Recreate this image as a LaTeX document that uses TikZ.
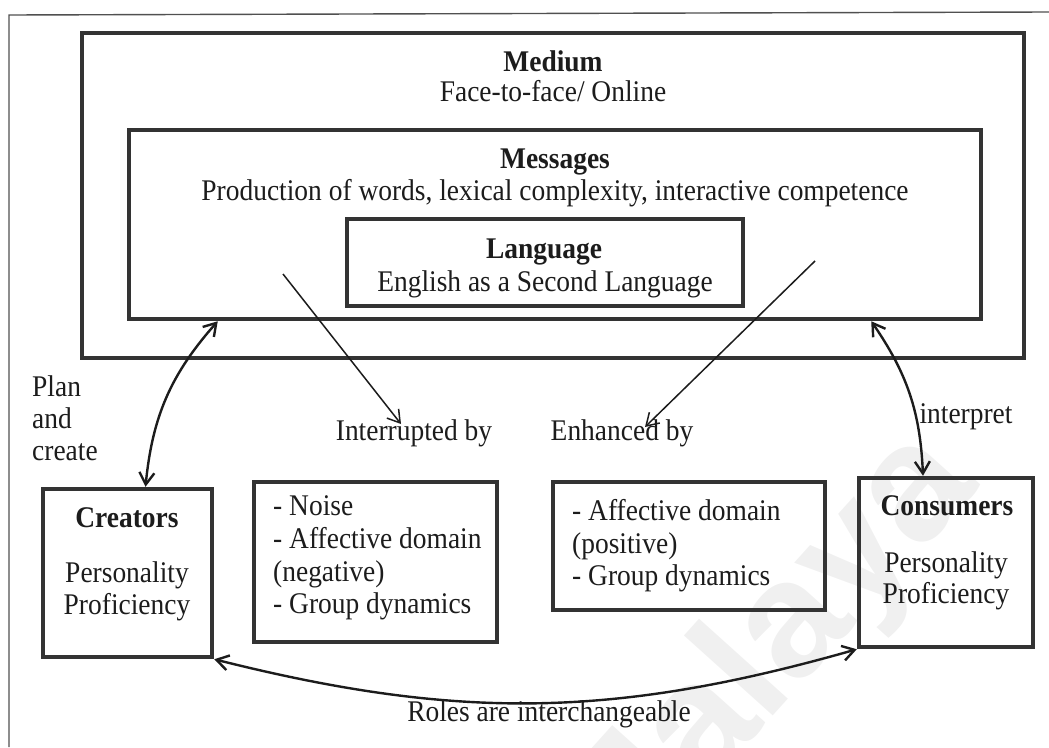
\documentclass[tikz,border=0pt]{standalone}
\usepackage{fontspec}
\setmainfont{Liberation Serif}[FakeStretch=0.915]
\setsansfont{Liberation Sans}
\usetikzlibrary{arrows.meta}
\definecolor{ink}{HTML}{1C1C1C}
\definecolor{boxedge}{HTML}{333333}
\definecolor{pagerule}{HTML}{505050}
\definecolor{wmgray}{HTML}{F0F0F0}

\begin{document}
\begin{tikzpicture}[x=1pt,y=-1pt,
  frame/.style={draw=boxedge, line width=4.5pt, inner sep=0pt},
  txt/.style={text=ink, inner sep=0pt, font=\fontsize{30}{32}\selectfont},
  head/.style={txt, font=\fontsize{30}{32}\selectfont\bfseries},
  flowarrow/.style={draw=ink, line width=1.5pt,
    -{Straight Barb[length=12pt,width=15pt,line width=1.5pt]}},
  loopline/.style={draw=ink, line width=2.4pt,
    {Straight Barb[length=12pt,width=15pt]}-{Straight Barb[length=12pt,width=15pt]}}
]
\useasboundingbox (0,0) rectangle (1049,747);
\clip (0,0) rectangle (1049,747);

% faint watermark
\node[rotate=48, text=wmgray, inner sep=0pt,
      font=\fontsize{165}{165}\sffamily\bfseries] (wm) at (765,662) {Malaya};

% page rules
\coordinate (pgTL) at (9,15);
\coordinate (pgTR) at (1049,12);
\coordinate (pgBL) at (9,747);
\draw[pagerule, line width=1.4pt] (pgTR) -- (pgTL) -- (pgBL);

% nested boxes
\node[frame, minimum width=942pt, minimum height=325pt] (medium) at (553,195.5) {};
\node[frame, minimum width=852pt, minimum height=189pt] (msgs) at (555,224.5) {};
\node[frame, minimum width=396pt, minimum height=87pt] (lang) at (545,262.5) {};

\node[head, anchor=base] (tMedium) at (553,71) {Medium};
\node[txt, anchor=base] (tFace) at (553,101) {Face-to-face/ Online};
\node[head, anchor=base] (tMsgs) at (555,168) {Messages};
\node[txt, anchor=base] (tProd) at (555,200) {Production of words, lexical complexity, interactive competence};
\node[head, anchor=base] (tLang) at (544,258) {Language};
\node[txt, anchor=base] (tEsl) at (545,291) {English as a Second Language};

% lower boxes
\node[frame, minimum width=169pt, minimum height=168pt] (creators) at (127.5,573) {};
\node[frame, minimum width=243pt, minimum height=160pt] (neg) at (375.5,562) {};
\node[frame, minimum width=272pt, minimum height=128pt] (pos) at (689,546) {};
\node[frame, minimum width=174pt, minimum height=169pt] (consumers) at (946,562.5) {};

\node[head, anchor=base] (tCreators) at (127,527) {Creators};
\node[txt, anchor=base] (tCrPers) at (127,582) {Personality};
\node[txt, anchor=base] (tCrProf) at (127,614) {Proficiency};

\node[head, anchor=base] (tConsumers) at (947,515) {Consumers};
\node[txt, anchor=base] (tCoPers) at (946,572) {Personality};
\node[txt, anchor=base] (tCoProf) at (946,603) {Proficiency};

\node[txt, anchor=base west] (tNeg1) at (273,515) {- Noise};
\node[txt, anchor=base west] (tNeg2) at (273,548) {- Affective domain};
\node[txt, anchor=base west] (tNeg3) at (273,581) {(negative)};
\node[txt, anchor=base west] (tNeg4) at (273,613) {- Group dynamics};

\node[txt, anchor=base west] (tPos1) at (572,520) {- Affective domain};
\node[txt, anchor=base west] (tPos2) at (572,553) {(positive)};
\node[txt, anchor=base west] (tPos3) at (572,585) {- Group dynamics};

% labels
\node[txt, anchor=base west] (tPlan) at (32,396) {Plan};
\node[txt, anchor=base west] (tAnd) at (32,428) {and};
\node[txt, anchor=base west] (tCreate) at (32,460) {create};
\node[txt, anchor=base] (tInterp) at (966,423) {interpret};
\node[txt, anchor=base] (tIntBy) at (414,440) {Interrupted by};
\node[txt, anchor=base] (tEnhBy) at (622,440) {Enhanced by};
\node[txt, anchor=base] (tRoles) at (549,721) {Roles are interchangeable};

% straight arrows out of the message box
\coordinate (a1s) at (283,274);
\coordinate (a1e) at (401,424);
\coordinate (a2s) at (815,261);
\coordinate (a2e) at (645,427);
\draw[flowarrow] (a1s) -- (a1e);
\draw[flowarrow] (a2s) -- (a2e);

% curved two-way arrows
\draw[loopline] ([xshift=91pt]msgs.south west) to[bend right=18] ([xshift=18pt]creators.north);
\draw[loopline] ([xshift=-112pt]msgs.south east) to[bend left=16] ([xshift=-23pt]consumers.north);
\draw[loopline] (creators.south east) to[bend right=15] (consumers.south west);
\end{tikzpicture}
\end{document}
